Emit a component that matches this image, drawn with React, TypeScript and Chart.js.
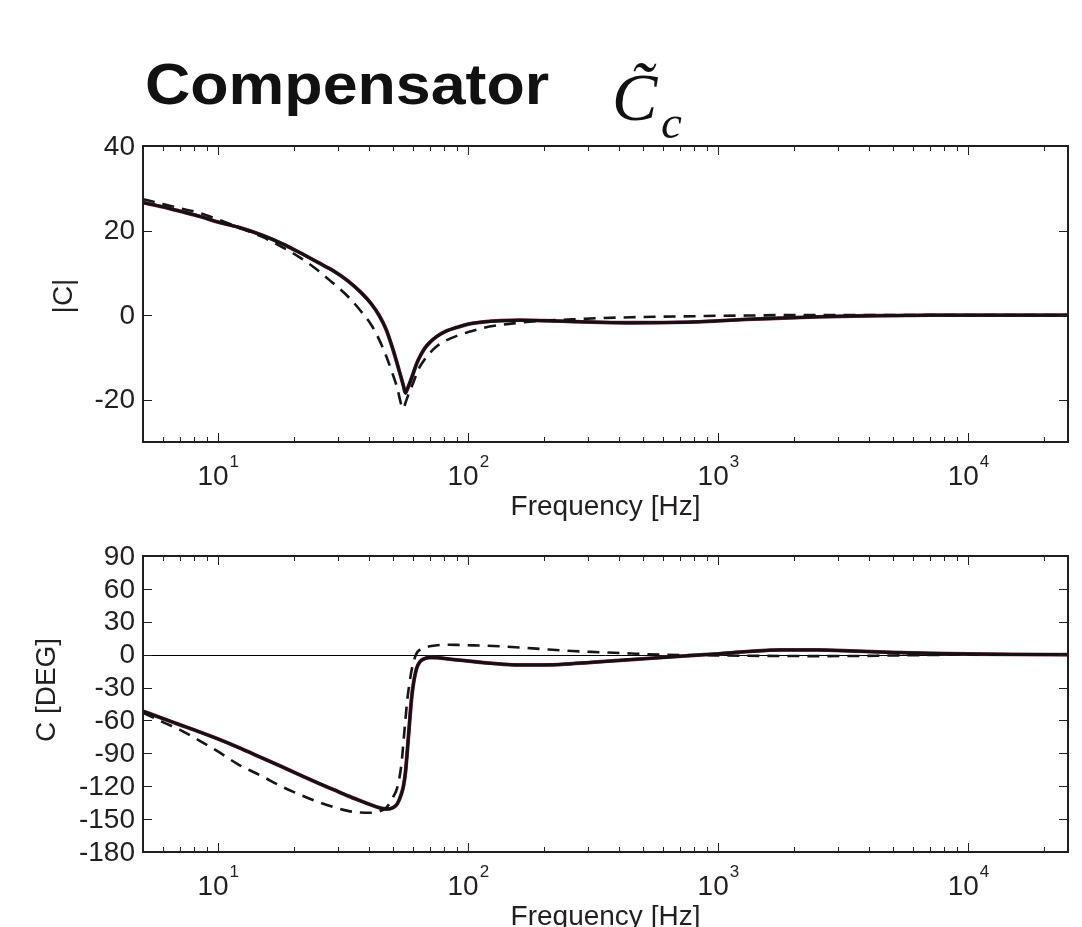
import React, { useEffect, useRef } from 'react';
import { Chart, registerables } from 'chart.js';

Chart.register(...registerables);

// ---------- data ----------
const freqs = [5, 6, 7, 8.5, 10, 12, 15, 18, 21, 25, 29, 33, 37, 41, 44, 47, 50, 52, 54, 55, 56, 57, 58, 59, 60, 62, 64, 67, 70, 75, 82, 90, 100, 115, 135, 160, 200, 260, 340, 450, 600, 800, 1000, 1300, 1800, 2500, 3500, 5000, 7000, 10000, 15000, 25000];

const magSolid = [26.6, 25.6, 24.6, 23.3, 22.0, 20.8, 18.9, 16.9, 14.9, 12.5, 10.4, 8.1, 5.5, 2.6, -0.1, -3.5, -8.2, -11.6, -15.0, -16.7, -18.4, -17.5, -16.4, -15.2, -14.0, -11.6, -9.8, -7.8, -6.5, -5.0, -3.7, -2.9, -2.1, -1.6, -1.3, -1.2, -1.3, -1.5, -1.7, -1.8, -1.75, -1.6, -1.35, -1.0, -0.7, -0.4, -0.2, -0.1, 0, 0, 0, 0];

const magDashed = [27.4, 26.3, 25.3, 24.1, 22.6, 20.8, 18.5, 16.1, 13.8, 10.6, 7.4, 4.4, 1.1, -2.4, -5.8, -9.8, -14.2, -17.3, -21.3, -22.1, -20.8, -19.5, -18.3, -17.2, -16.2, -14.0, -12.2, -10.4, -9.0, -7.3, -5.9, -4.9, -4.0, -3.0, -2.3, -1.8, -1.3, -1.0, -0.7, -0.5, -0.35, -0.25, -0.15, -0.1, 0, 0, 0, 0, 0, 0, 0, 0];

const phaseSolid = [-51.6, -58.2, -63.8, -70.8, -77, -84.5, -94.3, -102.3, -109.3, -117, -123.3, -128.8, -133.3, -137.2, -139.6, -140.8, -139.5, -136, -127, -120, -108, -88, -66, -45, -30, -13, -6.5, -3.5, -2.6, -2.7, -3.8, -4.8, -5.8, -7.3, -8.6, -9.4, -9.4, -8.2, -6.4, -4.5, -2.5, -0.6, 0.8, 2.8, 4.3, 4.3, 3.3, 2.0, 1.2, 0.6, 0.2, 0];

const phaseDashed = [-53, -61.5, -68.3, -79, -88.5, -100, -111, -120.5, -127.3, -134.3, -139, -142.5, -144, -144.2, -143, -139.5, -130, -121, -100, -80, -60, -41, -28, -17, -9, 1, 4.5, 6.5, 7.6, 8.6, 9.0, 8.9, 8.6, 8.2, 7.6, 6.6, 5.0, 3.3, 2.2, 1.0, 0, -0.4, -0.7, -1.0, -1.2, -1.3, -1.2, -0.7, -0.3, 0, 0, 0];

const freqMin = 5;
const freqMax = 25000;
const magMin = -30;
const magMax = 40;
const phaseMin = -180;
const phaseMax = 90;
const magTicks = [40, 20, 0, -20];
const phaseTicks = [90, 60, 30, 0, -30, -60, -90, -120, -150, -180];
const decadeTicks = [10, 100, 1000, 10000];
const decadeExponents = ['1', '2', '3', '4'];
const minorFreqTicks = [6, 7, 8, 9, 20, 30, 40, 50, 60, 70, 80, 90, 200, 300, 400, 500, 600, 700, 800, 900, 2000, 3000, 4000, 5000, 6000, 7000, 8000, 9000, 20000];

const titleText = 'Compensator';
const xTitle = 'Frequency [Hz]';
const magTitle = '|C|';
const phaseTitle = 'C [DEG]';

// ---------- styling ----------
const SANS = '"Liberation Sans", Arial, Helvetica, sans-serif';
const SERIF = '"Liberation Serif", "Times New Roman", serif';
const TEXT = '#231f20';
const AXIS = '#231f20';

const toPoints = (ys: number[]) => freqs.map((f, i) => ({ x: f, y: ys[i] }));

const axesDecor = {
  id: 'axesDecor',
  beforeDatasetsDraw(chart: any, _args: any, opts: any) {
    if (opts.zeroLine === undefined || opts.zeroLine === null) return;
    const { ctx, chartArea: a } = chart;
    const y = chart.scales.y;
    const py = Math.round(y.getPixelForValue(opts.zeroLine)) + 0.5;
    ctx.save();
    ctx.strokeStyle = '#000';
    ctx.lineWidth = 1;
    ctx.beginPath();
    ctx.moveTo(a.left, py);
    ctx.lineTo(a.right, py);
    ctx.stroke();
    ctx.restore();
  },
  afterDraw(chart: any, _args: any, opts: any) {
    const { ctx, chartArea: a } = chart;
    const x = chart.scales.x;
    const y = chart.scales.y;
    ctx.save();
    ctx.strokeStyle = AXIS;
    ctx.lineWidth = 1;
    const major = 9;
    const minor = 5;
    ctx.beginPath();
    for (const f of decadeTicks) {
      const px = Math.round(x.getPixelForValue(f)) + 0.5;
      ctx.moveTo(px, a.top); ctx.lineTo(px, a.top + major);
      ctx.moveTo(px, a.bottom); ctx.lineTo(px, a.bottom - major);
    }
    for (const f of minorFreqTicks) {
      const px = Math.round(x.getPixelForValue(f)) + 0.5;
      ctx.moveTo(px, a.top); ctx.lineTo(px, a.top + minor);
      ctx.moveTo(px, a.bottom); ctx.lineTo(px, a.bottom - minor);
    }
    for (const v of opts.yTicks) {
      const py = Math.round(y.getPixelForValue(v)) + 0.5;
      ctx.moveTo(a.left, py); ctx.lineTo(a.left + major, py);
      ctx.moveTo(a.right, py); ctx.lineTo(a.right - major, py);
    }
    ctx.stroke();

    // box
    ctx.lineWidth = 2;
    ctx.strokeRect(a.left, a.top, a.right - a.left, a.bottom - a.top);

    // y tick labels
    ctx.fillStyle = TEXT;
    ctx.font = `28px ${SANS}`;
    ctx.textAlign = 'right';
    ctx.textBaseline = 'middle';
    for (const v of opts.yTicks) {
      ctx.fillText(String(v), a.left - 8, y.getPixelForValue(v) + 1);
    }

    // x tick labels: 10^n
    ctx.textBaseline = 'alphabetic';
    ctx.textAlign = 'left';
    decadeTicks.forEach((f, i) => {
      const px = x.getPixelForValue(f);
      ctx.font = `28px ${SANS}`;
      const wb = ctx.measureText('10').width;
      ctx.font = `17px ${SANS}`;
      const ws = ctx.measureText(decadeExponents[i]).width;
      const start = px - (wb + ws + 1) / 2;
      ctx.font = `28px ${SANS}`;
      ctx.fillText('10', start, a.bottom + 43);
      ctx.font = `17px ${SANS}`;
      ctx.fillText(decadeExponents[i], start + wb + 1, a.bottom + 25);
    });

    // x title
    ctx.font = `28px ${SANS}`;
    ctx.textAlign = 'center';
    ctx.fillText(xTitle, (a.left + a.right) / 2, a.bottom + 73);

    // y title
    ctx.save();
    ctx.translate(opts.yTitleX, opts.yTitleY);
    ctx.rotate(-Math.PI / 2);
    ctx.textAlign = 'center';
    ctx.textBaseline = 'middle';
    ctx.fillText(opts.yTitle, 0, 0);
    ctx.restore();

    // main title
    if (opts.showTitle) {
      ctx.textAlign = 'left';
      ctx.textBaseline = 'alphabetic';
      ctx.fillStyle = '#111';
      ctx.save();
      ctx.translate(145, 104);
      ctx.scale(1.1, 1);
      ctx.font = `bold 57px ${SANS}`;
      ctx.fillText(titleText, 0, 0);
      ctx.restore();
      ctx.font = `italic 68px ${SERIF}`;
      ctx.fillText('C\u0303', 612, 120);
      ctx.font = `italic 47px ${SERIF}`;
      ctx.fillText('c', 661, 138);
    }
    ctx.restore();
  },
};

function makeConfig(solid: number[], dashed: number[], yMin: number, yMax: number, padding: any, decor: any) {
  return {
    type: 'line',
    data: {
      datasets: [
        {
          label: 'model',
          data: toPoints(solid),
          borderColor: '#121212',
          borderWidth: 3,
          pointRadius: 0,
          cubicInterpolationMode: 'monotone',
          fill: false,
        },
        {
          label: 'approximation',
          data: toPoints(dashed),
          borderColor: '#161616',
          borderWidth: 2.6,
          borderDash: [12, 8],
          pointRadius: 0,
          cubicInterpolationMode: 'monotone',
          fill: false,
        },
        {
          label: 'reference',
          data: toPoints(solid),
          borderColor: '#8c1d4f',
          borderWidth: 3.8,
          pointRadius: 0,
          cubicInterpolationMode: 'monotone',
          fill: false,
        },
      ],
    },
    options: {
      animation: false,
      responsive: false,
      maintainAspectRatio: false,
      devicePixelRatio: 1,
      layout: { padding },
      scales: {
        x: { type: 'logarithmic', min: freqMin, max: freqMax, display: false },
        y: { type: 'linear', min: yMin, max: yMax, display: false },
      },
      plugins: {
        legend: { display: false },
        tooltip: { enabled: false },
        axesDecor: decor,
      },
    },
    plugins: [axesDecor],
  } as any;
}

export default function App() {
  const topRef = useRef<HTMLCanvasElement>(null);
  const botRef = useRef<HTMLCanvasElement>(null);

  useEffect(() => {
    const c1 = new Chart(
      topRef.current as HTMLCanvasElement,
      makeConfig(magSolid, magDashed, magMin, magMax,
        { left: 143, right: 14, top: 146, bottom: 93 },
        { yTicks: magTicks, yTitle: magTitle, yTitleX: 64, yTitleY: 296, showTitle: true })
    );
    const c2 = new Chart(
      botRef.current as HTMLCanvasElement,
      makeConfig(phaseSolid, phaseDashed, phaseMin, phaseMax,
        { left: 143, right: 14, top: 21, bottom: 75 },
        { yTicks: phaseTicks, yTitle: phaseTitle, yTitleX: 47, yTitleY: 690 - 535, zeroLine: 0, showTitle: false })
    );
    return () => {
      c1.destroy();
      c2.destroy();
    };
  }, []);

  return (
    <div style={{ position: 'absolute', left: 0, top: 0, width: 1082, height: 927, background: '#fff', overflow: 'hidden' }}>
      <canvas ref={topRef} width={1082} height={535} style={{ position: 'absolute', left: 0, top: 0, width: 1082, height: 535, display: 'block' }} />
      <canvas ref={botRef} width={1082} height={392} style={{ position: 'absolute', left: 0, top: 535, width: 1082, height: 392, display: 'block' }} />
    </div>
  );
}
